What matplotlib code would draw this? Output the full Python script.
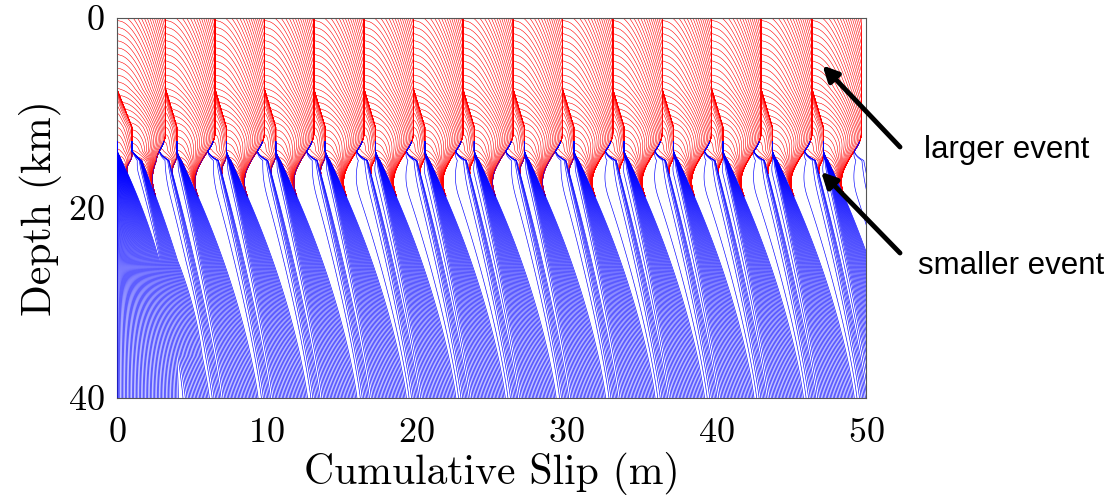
import numpy as np
import matplotlib
matplotlib.use("Agg")
import matplotlib.pyplot as plt
from matplotlib.collections import LineCollection

# surface slip reached after each large event (m) at the top
large_event_slip = [3.25, 6.55, 9.85, 13.15, 16.5, 19.8, 23.1, 26.45, 29.75,
                    33.1, 36.4, 39.7, 43.0, 46.4, 49.7]
# slip at ~14 km after each smaller (deep) event, read from the blue tips
small_event_slip = [1.0, 4.0, 7.3, 10.6, 13.9, 17.25, 20.55, 23.85, 27.2, 30.5,
                    33.85, 37.15, 40.45, 43.75, 47.15]
# deep slip (at 40 km) when each event happens, from the white gaps at the bottom
large_event_time = [6.3, 9.6, 12.9, 16.2, 19.55, 22.85, 26.15, 29.5, 32.8,
                    36.15, 39.45, 42.75, 46.05, 49.45, 52.75]
small_event_time = [4.4, 7.0, 10.3, 13.6, 16.9, 20.25, 23.55, 26.85, 30.2, 33.5,
                    36.85, 40.15, 43.45, 46.75, 50.15]
x_ticks = [0, 10, 20, 30, 40, 50]
y_ticks = [0, 20, 40]

#|%%--%%| kinematic slip model driven by the event lists above

z = np.linspace(0, 40, 321)
V = 1.0
dt = 0.01
t_end = 53.0
blue_every = 10

u = np.clip((z - 14) / 26, 0, 1)
w = 0.93 * (1 - (1 - u) ** 2.0)          # interseismic creep fraction
lag = 3.0 * (1 - u) ** 1.1               # post-seismic lag behind the deep slip
a_post = np.clip(z - 14, 0, 1)           # where afterslip acts
shape_large = np.where(z < 12, 1.0, np.where(z > 19, 0.0, 0.5 * (1 + np.cos(np.pi * (z - 12) / 7))))
shape_small = np.clip((z - 7.5) / 4, 0, 1) * np.where(z < 14.5, 1.0, np.where(z > 16.5, 0.0, 0.5 * (1 + np.cos(np.pi * (z - 14.5) / 2))))
tau_post = 0.08

events = [(t, "L", s_) for t, s_ in zip(large_event_time, large_event_slip)]
events += [(t, "S", s_) for t, s_ in zip(small_event_time, small_event_slip)]
events.sort()

s = np.zeros_like(z)
pool = np.zeros_like(z)
blue_lines = []
red_lines = []


def rupture(pre, delta, shape, z_h, span, n, rise):
    mask = shape > 1e-3
    ta = np.abs(z - z_h) / span
    out = []
    for tau in np.linspace(0, 1 + rise, n)[1:]:
        h = np.sqrt(np.clip((tau - ta) / rise, 0, 1))
        prof = pre + delta * h
        out.append(np.column_stack([prof[mask], z[mask]]))
    return out


ev_i = 0
nsteps = int(round(t_end / dt))
for k in range(nsteps + 1):
    t = k * dt
    while ev_i < len(events) and events[ev_i][0] <= t + 1e-9:
        _, kind, target = events[ev_i]
        if kind == "L":
            delta = shape_large * np.clip(target - s, 0, None)
            red_lines += rupture(s.copy(), delta, shape_large, 17.5, 17.5, 40, 0.6)
        else:
            delta = shape_small * np.clip(target - s, 0, None)
            red_lines += rupture(s.copy(), delta, shape_small, 16.0, 8.5, 18, 0.5)
        s = s + delta
        pool = a_post * np.clip(V * t - lag - s, 0, None)
        ev_i += 1
    if k % blue_every == 0:
        m = z >= 13
        blue_lines.append(np.column_stack([s[m], z[m]]))
    rel = pool * (1 - np.exp(-dt / tau_post))
    pool -= rel
    s = s + V * dt * w + rel

#|%%--%%| figure

plt.rcParams["font.family"] = "cmr10"
plt.rcParams["axes.formatter.use_mathtext"] = True

fig = plt.figure(figsize=(11.14, 4.98), dpi=100)
ax = fig.add_axes([0.105, 0.2008, 0.6724, 0.7631])

ax.add_collection(LineCollection(red_lines, colors="#ff0000", linewidths=0.4, zorder=2))
ax.add_collection(LineCollection(blue_lines, colors="#0000ff", linewidths=0.45, zorder=3))

ax.set_xlim(0, 50)
ax.set_ylim(40, 0)
ax.set_xticks(x_ticks)
ax.set_yticks(y_ticks)
ax.tick_params(direction="in", length=0, labelsize=26)
ax.tick_params(axis="x", pad=14)
ax.tick_params(axis="y", pad=9)
for sp in ax.spines.values():
    sp.set_color("#555555")
    sp.set_linewidth(0.8)
ax.set_xlabel("Cumulative Slip (m)", fontsize=30, labelpad=2)
ax.set_ylabel("Depth (km)", fontsize=30, labelpad=4)

arrow = dict(arrowstyle="-|>,head_length=0.9,head_width=0.45", color="k", lw=3.5, shrinkA=0, shrinkB=0)
ax.annotate("", xy=(47.1, 5.0), xytext=(900 / 1114, 1 - 147 / 498),
            textcoords="figure fraction", arrowprops=arrow, annotation_clip=False)
ax.annotate("", xy=(47.0, 16.2), xytext=(900 / 1114, 1 - 253 / 498),
            textcoords="figure fraction", arrowprops=arrow, annotation_clip=False)
fig.text(924 / 1114, 1 - 150 / 498, "larger event", family="Liberation Sans", fontsize=22.5, va="center")
fig.text(918 / 1114, 1 - 266 / 498, "smaller event", family="Liberation Sans", fontsize=22.5, va="center")

fig.savefig("out.png", dpi=100)
